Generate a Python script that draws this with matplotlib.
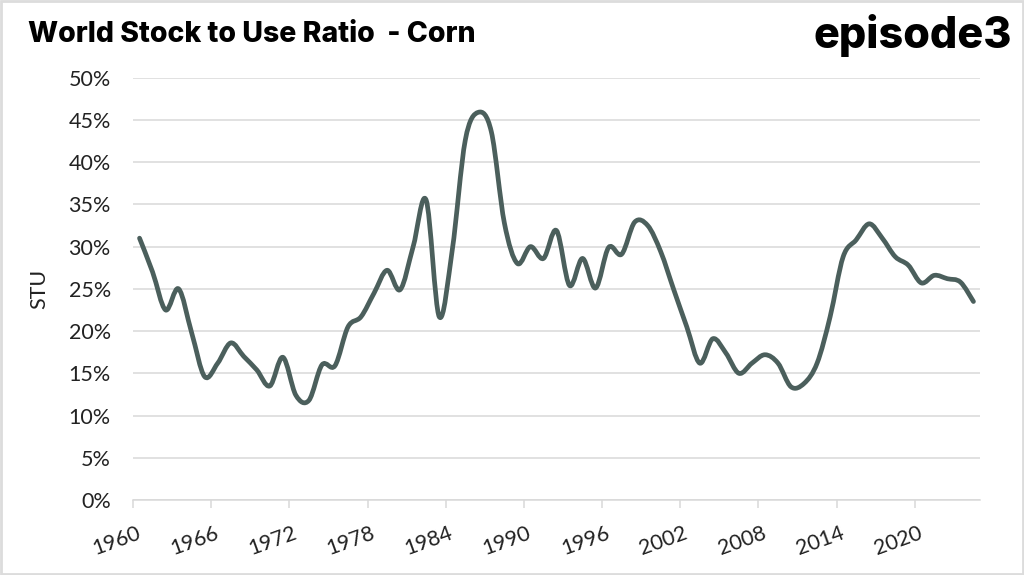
import numpy as np
import matplotlib.pyplot as plt
from matplotlib.path import Path
from matplotlib.patches import PathPatch, Rectangle
from matplotlib.ticker import FixedLocator, FixedFormatter

# World stock-to-use ratio for corn, %
years = list(range(1960, 2025))
stu = [31.0, 27.0, 22.5, 25.0, 19.8, 14.6, 16.2, 18.6, 17.0, 15.4,
       13.5, 16.9, 12.4, 11.8, 16.0, 15.9, 20.5, 21.7, 24.5, 27.2,
       24.9, 30.0, 35.5, 21.7, 29.6, 42.6, 45.9, 43.6, 32.8, 28.0,
       30.0, 28.6, 31.9, 25.4, 28.6, 25.1, 29.9, 29.1, 32.9, 32.5,
       29.4, 24.9, 20.5, 16.2, 19.1, 17.4, 15.0, 16.2, 17.2, 16.2,
       13.4, 13.8, 16.2, 21.7, 28.8, 30.8, 32.7, 31.0, 28.8, 27.8,
       25.7, 26.6, 26.2, 25.8, 23.5]
label_years = list(range(1960, 2021, 6))
y_ticks = list(range(0, 51, 5))

LINE = '#4b5f5c'
GRID = '#d9d9d9'


def smooth_path(xs, ys):
    # spreadsheet-style smoothed line: cubic bezier through every point
    pts = np.column_stack([xs, ys]).astype(float)
    ext = np.vstack([pts[0], pts, pts[-1]])
    verts = [pts[0]]
    codes = [Path.MOVETO]
    for i in range(1, len(ext) - 2):
        p0, p1, p2, p3 = ext[i - 1], ext[i], ext[i + 1], ext[i + 2]
        verts += [p1 + (p2 - p0) / 6.0, p2 - (p3 - p1) / 6.0, p2]
        codes += [Path.CURVE4] * 3
    return Path(verts, codes)


fig = plt.figure(figsize=(10.24, 5.75), dpi=100)
ax = fig.add_axes([0.1299, 0.1304, 0.8271, 0.7345])

ax.add_patch(PathPatch(smooth_path(years, stu), facecolor='none', edgecolor=LINE,
                       lw=3.4, capstyle='round', joinstyle='round', zorder=3))

ax.set_xlim(years[0] - 0.5, years[-1] + 0.5)
ax.set_ylim(0, 50)

ax.set_yticks(y_ticks)
ax.set_yticklabels([f'{v}%' for v in y_ticks], fontfamily='Lato', fontsize=15.5, color='#222222')
ax.tick_params(axis='y', length=0, pad=16)
ax.grid(axis='y', color=GRID, lw=1.1)
ax.set_axisbelow(True)

# tick marks between categories, labels at the category centres
ax.xaxis.set_major_locator(FixedLocator([y - 0.5 for y in label_years]))
ax.xaxis.set_major_formatter(FixedFormatter([''] * len(label_years)))
ax.xaxis.set_minor_locator(FixedLocator(label_years))
ax.xaxis.set_minor_formatter(FixedFormatter([str(y) for y in label_years]))
ax.tick_params(axis='x', which='major', length=6, width=1.1, color=GRID)
ax.tick_params(axis='x', which='minor', length=0, pad=23)
for lab in ax.xaxis.get_minorticklabels():
    lab.set_fontfamily('Lato')
    lab.set_fontstyle('normal')
    lab.set_fontsize(15.5)
    lab.set_color('#222222')
    lab.set_rotation(20)
    lab.set_ha('right')
    lab.set_va('center')
    lab.set_rotation_mode('anchor')

for side in ['left', 'right', 'top']:
    ax.spines[side].set_visible(False)
ax.spines['bottom'].set_color(GRID)
ax.spines['bottom'].set_linewidth(1.1)

ax.set_ylabel('STU', fontfamily='Lato', fontsize=15.5, color='#222222', labelpad=14)

fig.text(0.0273, 0.927, 'World Stock to Use Ratio  - Corn', fontfamily='Inter',
         fontweight='heavy', fontsize=20.5, color='black', va='baseline', ha='left')
fig.text(0.988, 0.916, 'episode3', fontfamily='Inter', fontweight='heavy',
         fontsize=31, color='black', va='baseline', ha='right')

# thin frame round the picture
fig.patches.append(Rectangle((0.001, 0.002), 0.998, 0.996, transform=fig.transFigure,
                             fill=False, edgecolor='#dcdcdc', lw=2))

fig.savefig('out.png', dpi=100)
